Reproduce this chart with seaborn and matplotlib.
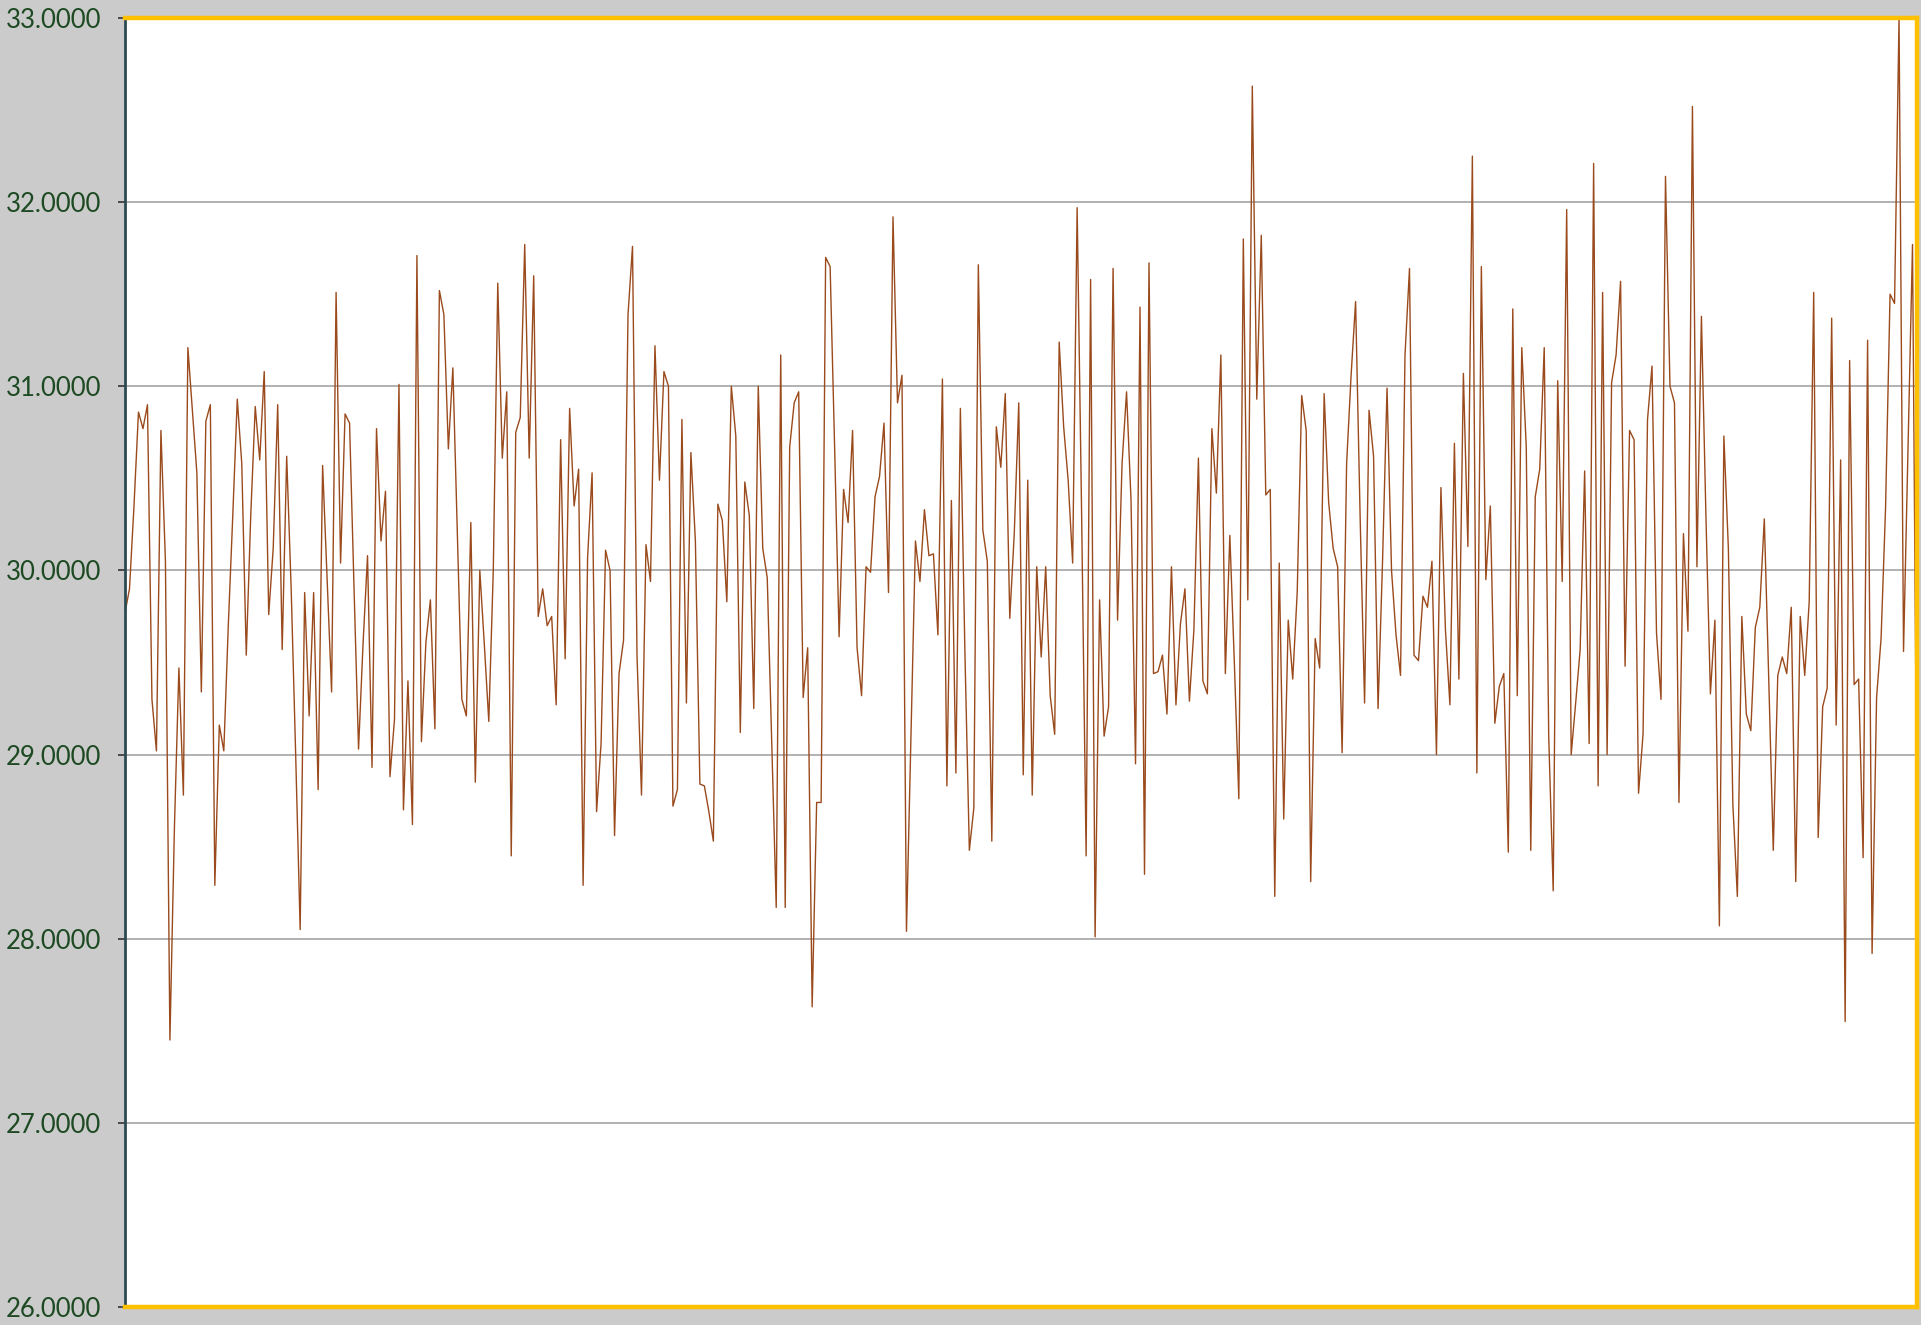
import numpy as np
import pandas as pd
import matplotlib
matplotlib.use("Agg")
import matplotlib.pyplot as plt
import seaborn as sns

seg1 = [29.77, 29.90, 30.35, 30.86, 30.77, 30.90, 29.30, 29.02, 30.76, 30.05,
        27.45, 28.60, 29.47, 28.78, 31.21, 30.87, 30.53, 29.34, 30.81, 30.90,
        28.29, 29.16, 29.02, 29.70, 30.30, 30.93, 30.58, 29.54, 30.30, 30.89,
        30.60, 31.08, 29.76, 30.12, 30.90, 29.57, 30.62]
seg2 = [29.90, 29.00, 28.05, 29.88, 29.21, 29.88, 28.81, 30.57, 29.95, 29.34,
        31.51, 30.04, 30.85, 30.80, 29.90, 29.03, 29.60, 30.08, 28.93, 30.77,
        30.16, 30.43, 28.88, 29.19, 31.01, 28.70, 29.40, 28.62, 31.71, 29.07,
        29.61, 29.84, 29.14, 31.52, 31.39, 30.66, 31.10]
seg3 = [30.20, 29.30, 29.21, 30.26, 28.85, 30.00, 29.60, 29.18, 30.00, 31.56,
        30.61, 30.97, 28.45, 30.75, 30.83, 31.77, 30.61, 31.60, 29.75, 29.90,
        29.70, 29.75, 29.27, 30.71, 29.52, 30.88, 30.35, 30.55, 28.29, 30.07,
        30.53, 28.69, 29.06, 30.11, 30.00, 28.56]
seg4 = [29.44, 29.62, 31.39, 31.76, 29.54, 28.78, 30.14, 29.94, 31.22, 30.49,
        31.08, 31.00, 28.72, 28.81, 30.82, 29.28, 30.64, 30.16, 28.84, 28.83,
        28.69, 28.53, 30.36, 30.27, 29.83, 31.00, 30.73, 29.12, 30.48, 30.30,
        29.25, 31.00, 30.12, 29.96, 29.06, 28.17, 31.17]
seg5 = [28.17, 30.67, 30.91, 30.97, 29.31, 29.58, 27.63, 28.74, 28.74, 31.70,
        31.65, 30.67, 29.64, 30.44, 30.26, 30.76, 29.58, 29.32, 30.02, 29.99,
        30.40, 30.51, 30.80, 29.88, 31.92, 30.91, 31.06, 28.04, 29.10, 30.16,
        29.94, 30.33, 30.08, 30.09, 29.65, 31.04, 28.83]
seg6 = [30.38, 28.90, 30.88, 29.57, 28.48, 28.71, 31.66, 30.22, 30.05, 28.53,
        30.78, 30.56, 30.96, 29.74, 30.20, 30.91, 28.89, 30.49, 28.78, 30.02,
        29.53, 30.02, 29.32, 29.11, 31.24, 30.78, 30.49, 30.04, 31.97, 30.30,
        28.45, 31.58, 28.01, 29.84, 29.10, 29.26, 31.64]
seg7 = [29.73, 30.58, 30.97, 30.38, 28.95, 31.43, 28.35, 31.67, 29.44, 29.45,
        29.54, 29.22, 30.02, 29.27, 29.71, 29.90, 29.29, 29.68, 30.61, 29.40,
        29.33, 30.77, 30.42, 31.17, 29.44, 30.19, 29.50, 28.76, 31.80, 29.84,
        32.63, 30.93, 31.82, 30.41, 30.44, 28.23, 30.04]
seg8 = [28.65, 29.73, 29.41, 29.88, 30.95, 30.76, 28.31, 29.63, 29.47, 30.96,
        30.37, 30.12, 30.02, 29.01, 30.58, 31.06, 31.46, 30.30, 29.28, 30.87,
        30.62, 29.25, 30.05, 30.99, 30.00, 29.65, 29.43, 31.17, 31.64, 29.54,
        29.51, 29.86, 29.80, 30.05, 29.00, 30.45]
seg9 = [29.68, 29.27, 30.69, 29.41, 31.07, 30.13, 32.25, 28.90, 31.65, 29.95,
        30.35, 29.17, 29.37, 29.44, 28.47, 31.42, 29.32, 31.21, 30.67, 28.48,
        30.40, 30.55, 31.21, 29.10, 28.26, 31.03, 29.94, 31.96, 29.00, 29.28,
        29.57, 30.54, 29.06, 32.21, 28.83, 31.51, 29.00]
seg10 = [31.02, 31.17, 31.57, 29.48, 30.76, 30.71, 28.79, 29.11, 30.82, 31.11,
         29.66, 29.30, 32.14, 31.00, 30.91, 28.74, 30.20, 29.67, 32.52, 30.02,
         31.38, 30.30, 29.33, 29.73, 28.07, 30.73, 30.12, 28.73, 28.23, 29.75,
         29.22, 29.13, 29.69, 29.80, 30.28, 29.40, 28.48]
seg11 = [29.43, 29.53, 29.44, 29.80, 28.31, 29.75, 29.43, 29.83, 31.51, 28.55,
         29.26, 29.36, 31.37, 29.16, 30.60, 27.55, 31.14, 29.38, 29.41, 28.44,
         31.25, 27.92, 29.31, 29.63, 30.34, 31.50, 31.45, 33.00, 29.56, 30.66,
         31.77, 28.52]

y_ticks = [26.0, 27.0, 28.0, 29.0, 30.0, 31.0, 32.0, 33.0]
y_tick_labels = [f"{v:.4f}" for v in y_ticks]

values = seg1 + seg2 + seg3 + seg4 + seg5 + seg6 + seg7 + seg8 + seg9 + seg10 + seg11
df = pd.DataFrame({"idx": np.arange(len(values)), "value": values})

sns.set_style("white")
plt.rcParams["font.family"] = ["Lato", "DejaVu Sans"]

fig = plt.figure(figsize=(19.21, 13.25), dpi=100)
fig.patch.set_facecolor("#cbcbcb")
ax = fig.add_axes([125 / 1921, 1 - 1307 / 1325, (1917 - 125) / 1921, (1307 - 18) / 1325])
ax.set_facecolor("white")

sns.lineplot(data=df, x="idx", y="value", ax=ax, color="#9a4a1c", linewidth=1.0)

ax.set_xlim(0, len(values) - 1)
ax.set_ylim(26, 33)
ax.set_yticks(y_ticks)
ax.set_yticklabels(y_tick_labels)
ax.set_xticks([])
ax.set_xlabel("")
ax.set_ylabel("")
ax.yaxis.grid(True, color="#9c9c9c", linewidth=1.1)
ax.set_axisbelow(True)

for side in ["top", "right", "bottom"]:
    ax.spines[side].set_color("#ffc000")
    ax.spines[side].set_linewidth(3.2)
ax.spines["left"].set_color("#2c4a52")
ax.spines["left"].set_linewidth(2.0)

ax.tick_params(axis="y", direction="out", length=5, width=1.2, color="#333333",
               pad=12, labelsize=18.5, labelcolor="#1d4a22", left=True)

fig.savefig("out.png", dpi=100, facecolor=fig.get_facecolor())
